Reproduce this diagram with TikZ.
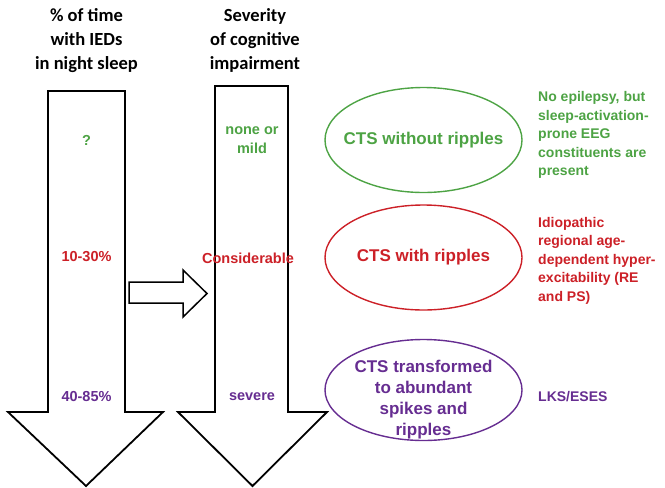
\documentclass[tikz,border=0pt]{standalone}
\usepackage{fontspec}
\setmainfont{Liberation Sans}
\newfontfamily\hdfont{Carlito}
\usetikzlibrary{shapes.geometric}
\definecolor{cgreen}{RGB}{77,163,68}
\definecolor{cred}{RGB}{204,32,39}
\definecolor{cpurple}{RGB}{102,45,145}
\begin{document}
\begin{tikzpicture}[x=1pt,y=-1pt,
  bigarrow/.style={draw=black,line width=1.8pt,fill=white,line join=miter},
  header/.style={font=\hdfont\bfseries\fontsize{18.5}{24}\selectfont,align=center,inner sep=0pt},
  lbl/.style={font=\bfseries\fontsize{14.5}{19}\selectfont,align=center,inner sep=0pt},
  oval/.style={ellipse,draw,line width=1.4pt,minimum width=197pt,minimum height=105pt,inner sep=0pt},
  ovaltext/.style={align=center,inner sep=0pt,font=\bfseries\fontsize{17}{21}\selectfont},
  side/.style={font=\bfseries\fontsize{14}{18.5}\selectfont,align=left,anchor=west,inner sep=0pt}]
\useasboundingbox (0,0) rectangle (665,488);
% headers
\node[header] (h1) at (86.5,40.5) {\% of time\\with IEDs\\in night sleep};
\node[header] (h2) at (255,40.5) {Severity\\of cognitive\\impairment};
% big arrows
\draw[bigarrow] (48,91) -- (125,91) -- (125,412) -- (163,412) -- (86,486) -- (8,412) -- (48,412) -- cycle;
\draw[bigarrow] (215,86) -- (288,86) -- (288,412) -- (327,412) -- (252.5,486) -- (178,412) -- (215,412) -- cycle;
% small arrow
\draw[bigarrow,line width=1.5pt] (129,282) -- (183,282) -- (183,270) -- (207,293.5) -- (183,317) -- (183,303) -- (129,303) -- cycle;
% labels in arrows
\node[lbl,text=cgreen] (q) at (86.5,140) {?};
\node[lbl,text=cred] (p1) at (86.5,257) {10-30\%};
\node[lbl,text=cpurple] (p2) at (86.5,397) {40-85\%};
\node[lbl,text=cgreen] (s1) at (252,140) {none or\\mild};
\node[lbl,text=cred] (s2) at (248,258) {Considerable};
\node[lbl,text=cpurple] (s3) at (252,397) {severe};
% ellipses
\node[oval,draw=cgreen] (e1) at (423.5,140) {};
\node[ovaltext,text=cgreen] (e1t) at (e1) {CTS without ripples};
\node[oval,draw=cred] (e2) at (423.5,257.5) {};
\node[ovaltext,text=cred] (e2t) at (e2) {CTS with ripples};
\node[oval,draw=cpurple,minimum height=101pt] (e3) at (423.5,390) {};
\node[ovaltext,text=cpurple] (e3t) at (423.5,399.5) {CTS transformed\\to abundant\\spikes and\\ripples};
% side texts
\node[side,text=cgreen] (t1) at (538,135) {No epilepsy, but\\sleep-activation-\\prone EEG\\constituents are\\present};
\node[side,text=cred] (t2) at (538,260.5) {Idiopathic\\regional age-\\dependent hyper-\\excitability (RE\\and PS)};
\node[side,text=cpurple] (t3) at (538,397) {LKS/ESES};
\end{tikzpicture}
\end{document}
